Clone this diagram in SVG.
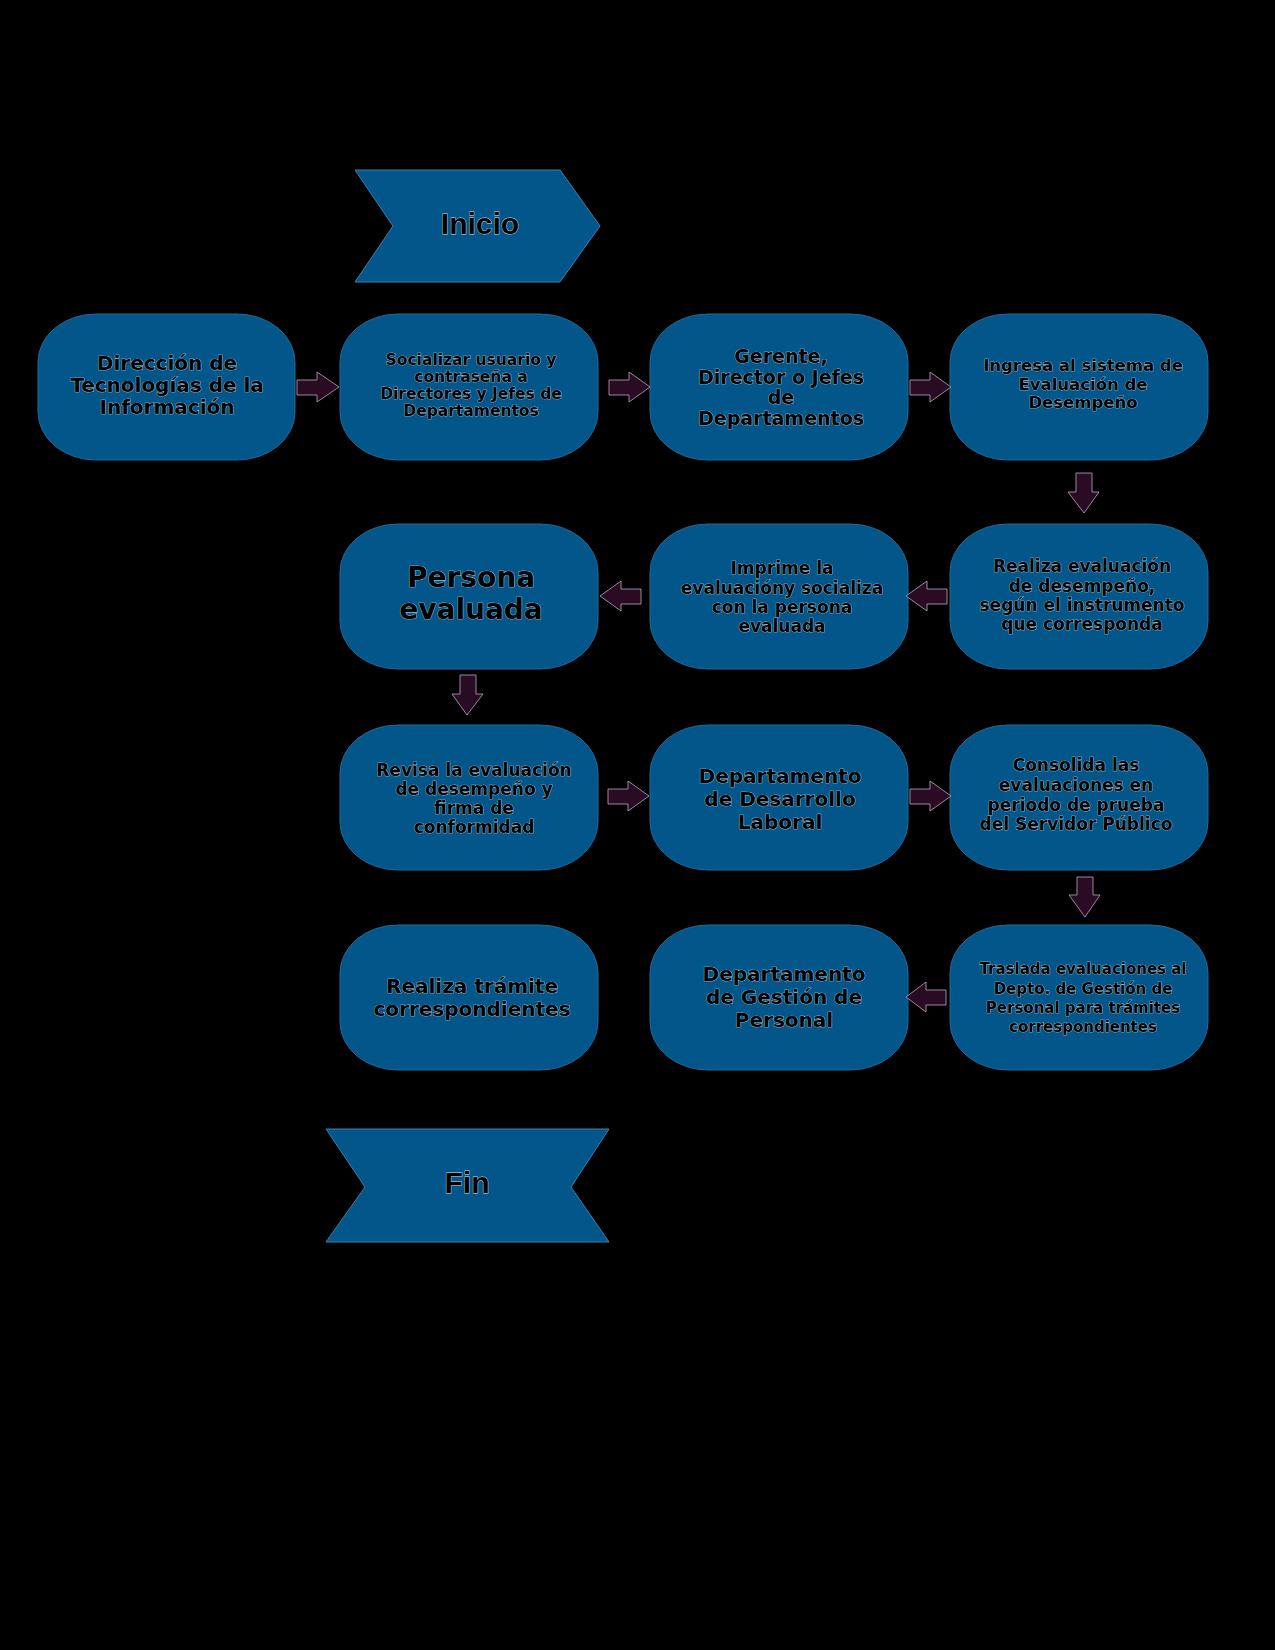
<svg xmlns="http://www.w3.org/2000/svg" width="1275" height="1650" viewBox="0 0 1275 1650">
<style>
.bg{fill:#000}
.box{fill:#02568a;stroke:#1f6a98;stroke-width:1}
.term{fill:#02568a;stroke:#3d7fae;stroke-width:1}
.arr{fill:#2a0b24;stroke:#b9a9bd;stroke-width:0.8}
.t{font-family:"DejaVu Sans",sans-serif;font-weight:bold;fill:#000;stroke:#cfe0ea;stroke-width:0.7;paint-order:stroke;text-anchor:middle}
.tt{font-family:"Liberation Sans",Arial,sans-serif;font-weight:bold;fill:#000;stroke:#cfe0ea;stroke-width:0.8;paint-order:stroke;text-anchor:middle;font-size:30px}
</style>
<rect class="bg" x="0" y="0" width="1275" height="1650"/>

<g id="inicio">
<polygon class="term" points="355,170 560,170 600,226 560,282 355,282 393,226"/>
<text class="tt" x="480" y="234">Inicio</text>
</g>

<g id="n1">
<rect class="box" x="38" y="314" width="257" height="146" rx="58" ry="48"/>
<text class="t" font-size="20" x="167" y="370">Dirección de</text>
<text class="t" font-size="20" x="167" y="392">Tecnologías de la</text>
<text class="t" font-size="20" x="167" y="414">Información</text>
</g>
<g id="n2">
<rect class="box" x="340" y="314" width="258" height="146" rx="58" ry="48"/>
<text class="t" font-size="15.5" x="471" y="365">Socializar usuario y</text>
<text class="t" font-size="15.5" x="471" y="382">contraseña a</text>
<text class="t" font-size="15.5" x="471" y="399">Directores y Jefes de</text>
<text class="t" font-size="15.5" x="471" y="416">Departamentos</text>
</g>
<g id="n3">
<rect class="box" x="650" y="314" width="258" height="146" rx="58" ry="48"/>
<text class="t" font-size="19" x="781" y="363">Gerente,</text>
<text class="t" font-size="19" x="781" y="384">Director o Jefes</text>
<text class="t" font-size="19" x="781" y="404">de</text>
<text class="t" font-size="19" x="781" y="425">Departamentos</text>
</g>
<g id="n4">
<rect class="box" x="950" y="314" width="258" height="146" rx="58" ry="48"/>
<text class="t" font-size="16.5" x="1083" y="371">Ingresa al sistema de</text>
<text class="t" font-size="16.5" x="1083" y="390">Evaluación de</text>
<text class="t" font-size="16.5" x="1083" y="408">Desempeño</text>
</g>

<g id="n5">
<rect class="box" x="950" y="524" width="258" height="145" rx="58" ry="48"/>
<text class="t" font-size="17" x="1082" y="572">Realiza evaluación</text>
<text class="t" font-size="17" x="1082" y="592">de desempeño,</text>
<text class="t" font-size="17" x="1082" y="611">según el instrumento</text>
<text class="t" font-size="17" x="1082" y="630">que corresponda</text>
</g>
<g id="n6">
<rect class="box" x="650" y="524" width="258" height="145" rx="58" ry="48"/>
<text class="t" font-size="17" x="782" y="574">Imprime la</text>
<text class="t" font-size="17" x="782" y="594">evaluacióny socializa</text>
<text class="t" font-size="17" x="782" y="613">con la persona</text>
<text class="t" font-size="17" x="782" y="632">evaluada</text>
</g>
<g id="n7">
<rect class="box" x="340" y="524" width="258" height="145" rx="58" ry="48"/>
<text class="t" font-size="28" x="471" y="587">Persona</text>
<text class="t" font-size="28" x="471" y="619">evaluada</text>
</g>

<g id="n8">
<rect class="box" x="340" y="725" width="258" height="145" rx="58" ry="48"/>
<text class="t" font-size="17" x="474" y="776">Revisa la evaluación</text>
<text class="t" font-size="17" x="474" y="795">de desempeño y</text>
<text class="t" font-size="17" x="474" y="814">firma de</text>
<text class="t" font-size="17" x="474" y="833">conformidad</text>
</g>
<g id="n9">
<rect class="box" x="650" y="725" width="258" height="145" rx="58" ry="48"/>
<text class="t" font-size="20" x="780" y="783">Departamento</text>
<text class="t" font-size="20" x="780" y="806">de Desarrollo</text>
<text class="t" font-size="20" x="780" y="829">Laboral</text>
</g>
<g id="n10">
<rect class="box" x="950" y="725" width="258" height="145" rx="58" ry="48"/>
<text class="t" font-size="17" x="1076" y="771">Consolida las</text>
<text class="t" font-size="17" x="1076" y="791">evaluaciones en</text>
<text class="t" font-size="17" x="1076" y="811">periodo de prueba</text>
<text class="t" font-size="17" x="1076" y="830">del Servidor Público</text>
</g>

<g id="n11">
<rect class="box" x="950" y="925" width="258" height="145" rx="58" ry="48"/>
<text class="t" font-size="15" x="1083" y="974">Traslada evaluaciones al</text>
<text class="t" font-size="15" x="1083" y="994">Depto. de Gestión de</text>
<text class="t" font-size="15" x="1083" y="1013">Personal para trámites</text>
<text class="t" font-size="15" x="1083" y="1032">correspondientes</text>
</g>
<g id="n12">
<rect class="box" x="650" y="925" width="258" height="145" rx="58" ry="48"/>
<text class="t" font-size="20" x="784" y="981">Departamento</text>
<text class="t" font-size="20" x="784" y="1004">de Gestión de</text>
<text class="t" font-size="20" x="784" y="1027">Personal</text>
</g>
<g id="n13">
<rect class="box" x="340" y="925" width="258" height="145" rx="58" ry="48"/>
<text class="t" font-size="20" x="472" y="993">Realiza trámite</text>
<text class="t" font-size="20" x="472" y="1016">correspondientes</text>
</g>

<g id="fin">
<polygon class="term" points="326,1129 609,1129 571,1187 609,1242 326,1242 365,1187"/>
<text class="tt" x="467" y="1193">Fin</text>
</g>

<g id="connectors">
<path class="arr" d="M297,380 H317 V372 L339,387 L317,402 V395 H297 Z"/>
<path class="arr" d="M609,380 H629 V372 L650,387 L629,402 V395 H609 Z"/>
<path class="arr" d="M910,380 H930 V372 L951,387 L930,402 V395 H910 Z"/>
<path class="arr" d="M1076,473 V492 H1068 L1084,513 L1099,492 H1092 V473 Z"/>
<path class="arr" d="M947,589 H927 V581 L906,596 L927,611 V604 H947 Z"/>
<path class="arr" d="M641,589 H621 V581 L600,596 L621,611 V604 H641 Z"/>
<path class="arr" d="M460,675 V694 H452 L467,715 L483,694 H476 V675 Z"/>
<path class="arr" d="M608,789 H628 V781 L649,796 L628,811 V804 H608 Z"/>
<path class="arr" d="M910,789 H930 V781 L951,796 L930,811 V804 H910 Z"/>
<path class="arr" d="M1077,877 V895 H1069 L1085,917 L1100,895 H1093 V877 Z"/>
<path class="arr" d="M946,990 H926 V982 L906,997 L926,1012 V1005 H946 Z"/>
</g>
</svg>
